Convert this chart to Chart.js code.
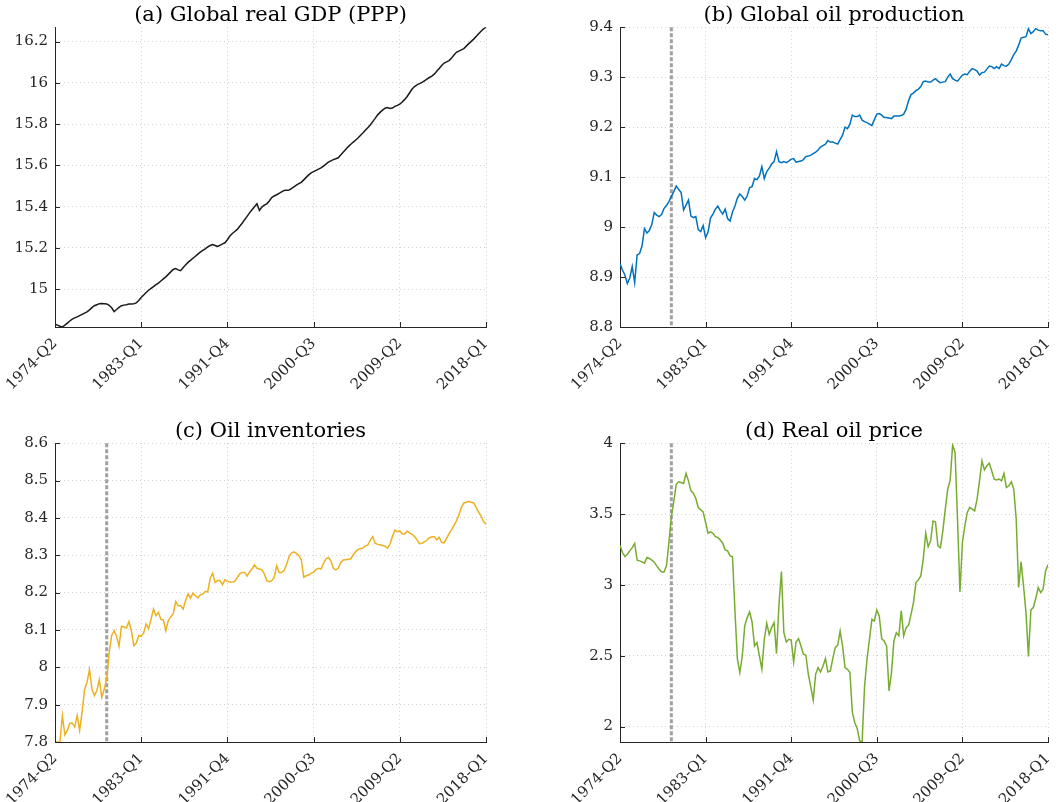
<!DOCTYPE html>
<html>
<head>
<meta charset="utf-8">
<script src="https://cdn.jsdelivr.net/npm/chart.js@4.4.1/dist/chart.umd.min.js"></script>
<style>
  body { margin: 0; background: #fff; width: 1060px; height: 802px; overflow: hidden; position: relative; }
  canvas { position: absolute; }
</style>
</head>
<body>
<canvas id="gdp" width="530" height="405" style="left:0;top:0"></canvas>
<canvas id="prod" width="550" height="405" style="left:530px;top:0"></canvas>
<canvas id="inv" width="530" height="386" style="left:0;top:416px"></canvas>
<canvas id="price" width="550" height="386" style="left:530px;top:416px"></canvas>
<script>
// quarters 1974-Q2 .. 2018-Q1
const quarters = [];
for (let y = 1974; y <= 2018; y++) {
  for (let q = 1; q <= 4; q++) {
    if ((y === 1974 && q < 2) || (y === 2018 && q > 1)) continue;
    quarters.push(y + '-Q' + q);
  }
}
const xTickLabels = ['1974-Q2', '1983-Q1', '1991-Q4', '2000-Q3', '2009-Q2', '2018-Q1'];
const breakQuarter = '1979-Q3';

const gdp = [
  14.830, 14.826, 14.821, 14.817, 14.826, 14.836, 14.846, 14.855, 14.861, 14.866,
  14.872, 14.878, 14.884, 14.890, 14.900, 14.911, 14.920, 14.925, 14.930, 14.931,
  14.930, 14.929, 14.922, 14.910, 14.892, 14.902, 14.912, 14.920, 14.923, 14.925,
  14.928, 14.929, 14.930, 14.934, 14.945, 14.960, 14.972, 14.984, 14.995, 15.004,
  15.013, 15.022, 15.030, 15.040, 15.050, 15.060, 15.072, 15.084, 15.096, 15.100,
  15.094, 15.090, 15.104, 15.118, 15.130, 15.140, 15.150, 15.160, 15.170, 15.180,
  15.188, 15.196, 15.205, 15.212, 15.217, 15.212, 15.207, 15.213, 15.220, 15.225,
  15.240, 15.258, 15.270, 15.280, 15.290, 15.305, 15.320, 15.337, 15.353, 15.370,
  15.385, 15.400, 15.414, 15.382, 15.398, 15.408, 15.414, 15.428, 15.444, 15.452,
  15.458, 15.465, 15.472, 15.479, 15.480, 15.481, 15.488, 15.496, 15.504, 15.512,
  15.518, 15.530, 15.542, 15.554, 15.564, 15.570, 15.576, 15.582, 15.588, 15.597,
  15.606, 15.616, 15.622, 15.628, 15.632, 15.637, 15.650, 15.664, 15.677, 15.690,
  15.701, 15.712, 15.722, 15.733, 15.745, 15.757, 15.770, 15.783, 15.796, 15.812,
  15.828, 15.845, 15.857, 15.868, 15.877, 15.880, 15.876, 15.878, 15.886, 15.891,
  15.897, 15.907, 15.920, 15.934, 15.952, 15.970, 15.982, 15.990, 15.996, 16.002,
  16.010, 16.018, 16.026, 16.033, 16.042, 16.056, 16.070, 16.084, 16.096, 16.102,
  16.108, 16.120, 16.135, 16.148, 16.154, 16.160, 16.166, 16.178, 16.190, 16.201,
  16.212, 16.225, 16.238, 16.250, 16.262, 16.270
];

const oilProd = [
  8.927, 8.914, 8.904, 8.887, 8.898, 8.921, 8.889, 8.944, 8.947, 8.962,
  8.997, 8.988, 8.993, 9.005, 9.029, 9.024, 9.021, 9.025, 9.037, 9.043,
  9.051, 9.061, 9.071, 9.082, 9.075, 9.069, 9.034, 9.044, 9.054, 9.022,
  9.019, 9.021, 8.995, 8.991, 9.003, 8.979, 8.990, 9.018, 9.026, 9.036,
  9.042, 9.033, 9.026, 9.036, 9.017, 9.012, 9.030, 9.042, 9.058, 9.066,
  9.061, 9.054, 9.062, 9.079, 9.081, 9.097, 9.095, 9.102, 9.121, 9.097,
  9.111, 9.118, 9.126, 9.131, 9.151, 9.131, 9.129, 9.131, 9.129, 9.132,
  9.136, 9.137, 9.130, 9.131, 9.132, 9.135, 9.141, 9.142, 9.144, 9.147,
  9.150, 9.154, 9.160, 9.163, 9.166, 9.173, 9.170, 9.170, 9.168, 9.166,
  9.175, 9.184, 9.200, 9.197, 9.206, 9.224, 9.221, 9.221, 9.224, 9.214,
  9.211, 9.209, 9.206, 9.203, 9.215, 9.226, 9.227, 9.224, 9.219, 9.219,
  9.218, 9.217, 9.222, 9.222, 9.222, 9.223, 9.226, 9.236, 9.253, 9.265,
  9.268, 9.273, 9.276, 9.281, 9.291, 9.292, 9.290, 9.290, 9.294, 9.297,
  9.292, 9.289, 9.290, 9.291, 9.300, 9.306, 9.297, 9.294, 9.292, 9.298,
  9.304, 9.306, 9.305, 9.312, 9.317, 9.315, 9.312, 9.304, 9.309, 9.310,
  9.316, 9.322, 9.321, 9.317, 9.321, 9.317, 9.326, 9.323, 9.322, 9.326,
  9.335, 9.345, 9.352, 9.364, 9.378, 9.380, 9.381, 9.397, 9.387, 9.391,
  9.397, 9.394, 9.393, 9.393, 9.386, 9.385
];

const oilInv = [
  7.801, 7.800, 7.800, 7.870, 7.819, 7.831, 7.850, 7.851, 7.840, 7.871,
  7.831, 7.880, 7.940, 7.960, 7.994, 7.942, 7.924, 7.938, 7.967, 7.920,
  7.942, 7.969, 8.040, 8.085, 8.098, 8.083, 8.056, 8.110, 8.108, 8.105,
  8.122, 8.098, 8.058, 8.065, 8.085, 8.083, 8.092, 8.116, 8.103, 8.129,
  8.156, 8.138, 8.147, 8.128, 8.127, 8.098, 8.125, 8.135, 8.143, 8.176,
  8.165, 8.165, 8.156, 8.178, 8.196, 8.185, 8.198, 8.192, 8.186, 8.194,
  8.196, 8.203, 8.202, 8.238, 8.252, 8.227, 8.232, 8.232, 8.221, 8.234,
  8.230, 8.228, 8.228, 8.230, 8.240, 8.250, 8.254, 8.254, 8.244, 8.256,
  8.263, 8.274, 8.265, 8.263, 8.261, 8.250, 8.232, 8.229, 8.232, 8.240,
  8.272, 8.254, 8.254, 8.259, 8.275, 8.295, 8.306, 8.309, 8.305, 8.299,
  8.288, 8.241, 8.245, 8.247, 8.252, 8.254, 8.262, 8.265, 8.263, 8.278,
  8.290, 8.294, 8.285, 8.265, 8.261, 8.265, 8.280, 8.287, 8.288, 8.289,
  8.290, 8.300, 8.309, 8.315, 8.318, 8.319, 8.325, 8.327, 8.340, 8.350,
  8.332, 8.329, 8.328, 8.326, 8.324, 8.319, 8.330, 8.350, 8.367, 8.363,
  8.365, 8.357, 8.357, 8.364, 8.360, 8.356, 8.350, 8.341, 8.331, 8.332,
  8.336, 8.340, 8.347, 8.349, 8.350, 8.341, 8.348, 8.334, 8.333, 8.345,
  8.358, 8.368, 8.380, 8.392, 8.408, 8.428, 8.440, 8.442, 8.444, 8.442,
  8.440, 8.428, 8.415, 8.405, 8.390, 8.383
];

const oilPrice = [
  3.280, 3.228, 3.200, 3.216, 3.240, 3.263, 3.292, 3.174, 3.169, 3.162,
  3.153, 3.193, 3.186, 3.174, 3.160, 3.134, 3.110, 3.091, 3.091, 3.134,
  3.300, 3.480, 3.590, 3.710, 3.727, 3.722, 3.715, 3.786, 3.734, 3.663,
  3.647, 3.609, 3.546, 3.529, 3.515, 3.440, 3.364, 3.374, 3.364, 3.340,
  3.334, 3.317, 3.294, 3.247, 3.240, 3.204, 3.200, 2.816, 2.475, 2.381,
  2.498, 2.710, 2.769, 2.809, 2.738, 2.569, 2.592, 2.498, 2.404, 2.616,
  2.729, 2.651, 2.698, 2.734, 2.515, 2.863, 3.094, 2.663, 2.597, 2.616,
  2.611, 2.456, 2.597, 2.621, 2.569, 2.510, 2.503, 2.369, 2.280, 2.187,
  2.369, 2.416, 2.385, 2.427, 2.479, 2.385, 2.392, 2.479, 2.557, 2.573,
  2.674, 2.569, 2.416, 2.404, 2.381, 2.102, 2.027, 1.985, 1.898, 1.891,
  2.286, 2.475, 2.616, 2.757, 2.745, 2.823, 2.780, 2.621, 2.604, 2.569,
  2.251, 2.381, 2.604, 2.663, 2.640, 2.816, 2.640, 2.698, 2.715, 2.792,
  2.875, 3.016, 3.035, 3.063, 3.181, 3.364, 3.270, 3.310, 3.451, 3.444,
  3.275, 3.263, 3.381, 3.534, 3.675, 3.739, 3.986, 3.934, 3.463, 2.950,
  3.299, 3.416, 3.511, 3.546, 3.534, 3.522, 3.605, 3.734, 3.875, 3.811,
  3.840, 3.859, 3.804, 3.746, 3.741, 3.746, 3.734, 3.786, 3.687, 3.699,
  3.727, 3.675, 3.463, 2.981, 3.162, 2.992, 2.804, 2.494, 2.823, 2.840,
  2.905, 2.981, 2.946, 2.969, 3.098, 3.141
];

const axisColor = '#262626';
Chart.defaults.font.family = '"DejaVu Serif", serif';
Chart.defaults.font.size = 15;
Chart.defaults.color = axisColor;

// inward tick marks + dotted vertical break line
const decor = {
  id: 'decor',
  beforeDatasetsDraw(chart, args, opts) {
    if (opts.breakAt == null) return;
    const {ctx, chartArea} = chart;
    const px = chart.scales.x.getPixelForValue(opts.breakAt);
    ctx.save();
    ctx.strokeStyle = '#a0a0a0';
    ctx.lineWidth = 3;
    ctx.setLineDash([4, 2]);
    ctx.beginPath();
    ctx.moveTo(px, chartArea.top);
    ctx.lineTo(px, chartArea.bottom);
    ctx.stroke();
    ctx.restore();
  },
  afterDatasetsDraw(chart) {
    const {ctx, chartArea} = chart;
    const x = chart.scales.x, y = chart.scales.y;
    ctx.save();
    ctx.strokeStyle = axisColor;
    ctx.lineWidth = 1;
    ctx.beginPath();
    x.ticks.forEach(t => {
      const px = Math.round(x.getPixelForValue(t.value)) + 0.5;
      ctx.moveTo(px, chartArea.bottom);
      ctx.lineTo(px, chartArea.bottom - 5);
    });
    y.ticks.forEach(t => {
      const py = Math.round(y.getPixelForValue(t.value)) + 0.5;
      ctx.moveTo(chartArea.left, py);
      ctx.lineTo(chartArea.left + 5, py);
    });
    ctx.stroke();
    ctx.restore();
  }
};

function panel(id, title, values, color, yMin, yMax, yStep, yAxisW, xAxisH, padRight, withBreak) {
  const ctx = document.getElementById(id).getContext('2d');
  return new Chart(ctx, {
    type: 'line',
    data: {
      datasets: [{
        data: values.map((v, i) => ({x: i, y: v})),
        borderColor: color,
        borderWidth: 1.5,
        pointRadius: 0,
        tension: 0
      }]
    },
    options: {
      responsive: false,
      animation: false,
      layout: {padding: {left: 0, right: padRight, top: 0, bottom: 0}},
      plugins: {
        legend: {display: false},
        tooltip: {enabled: false},
        title: {
          display: true,
          text: title,
          fullSize: false,
          color: '#000',
          font: {size: 21, weight: 'normal', lineHeight: 1.15},
          padding: {top: 3, bottom: 0}
        },
        decor: {breakAt: withBreak ? quarters.indexOf(breakQuarter) : null}
      },
      scales: {
        x: {
          type: 'linear',
          min: 0,
          max: quarters.length - 1,
          afterBuildTicks: s => { s.ticks = xTickLabels.map(l => ({value: quarters.indexOf(l)})); },
          afterFit: s => { s.height = xAxisH; },
          ticks: {
            autoSkip: false,
            minRotation: 45,
            maxRotation: 45,
            padding: 8,
            callback: v => quarters[v]
          },
          grid: {color: '#d2d2d2', lineWidth: 1, drawTicks: false},
          border: {display: true, color: axisColor, width: 1, dash: [1, 3]}
        },
        y: {
          min: yMin,
          max: yMax,
          afterFit: s => { s.width = yAxisW; },
          ticks: {stepSize: yStep, includeBounds: false, padding: 7, callback: v => String(+v.toFixed(2))},
          grid: {color: '#d2d2d2', lineWidth: 1, drawTicks: false},
          border: {display: true, color: axisColor, width: 1, dash: [1, 3]}
        }
      }
    },
    plugins: [decor]
  });
}

panel('gdp', '(a) Global real GDP (PPP)', gdp, '#1a1a1a', 14.817, 16.27, 0.2, 55, 78, 44, false);
panel('prod', '(b) Global oil production', oilProd, '#0072BD', 8.8, 9.4, 0.1, 90, 78, 32, true);
panel('inv', '(c) Oil inventories', oilInv, '#EDB120', 7.8, 8.6, 0.1, 55, 60, 44, true);
panel('price', '(d) Real oil price', oilPrice, '#77AC30', 1.891, 4, 0.5, 90, 60, 32, true);
</script>
</body>
</html>
